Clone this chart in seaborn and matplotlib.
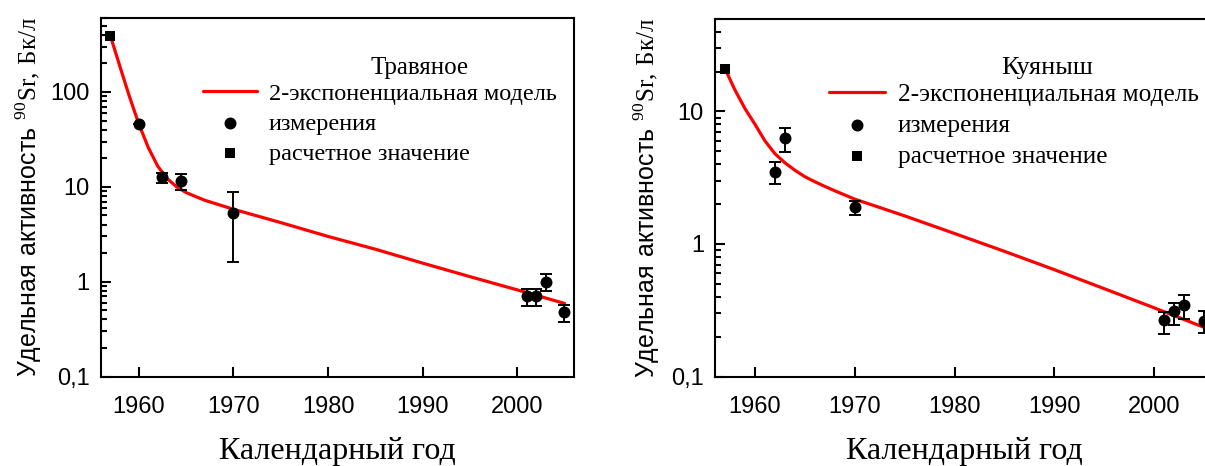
import numpy as np
import matplotlib
matplotlib.use("Agg")
import matplotlib.pyplot as plt
import seaborn as sns
from matplotlib.ticker import FixedLocator, FixedFormatter, LogLocator, NullFormatter

# --- Травяное ---
trav_model_years = [1957, 1958, 1959, 1960, 1961, 1962, 1963, 1964, 1965, 1966, 1967,
                    1968, 1970, 1975, 1980, 1985, 1990, 1995, 2000, 2005]
trav_model_values = [390, 186, 90, 46, 26, 16.5, 12.2, 10.0, 8.7, 7.9, 7.2,
                     6.7, 5.8, 4.2, 3.0, 2.2, 1.57, 1.13, 0.82, 0.59]
trav_meas_years = [1960, 1962.5, 1964.5, 1970, 2001, 2002, 2003, 2005]
trav_meas_values = [46, 12.6, 11.6, 5.3, 0.70, 0.70, 1.0, 0.48]
trav_err_low = [46, 11.0, 9.2, 1.6, 0.56, 0.56, 0.80, 0.38]
trav_err_high = [46, 14.0, 13.7, 8.8, 0.84, 0.84, 1.2, 0.57]
trav_calc_year = [1957]
trav_calc_value = [390]

# --- Куяныш ---
kuya_model_years = [1957, 1958, 1959, 1960, 1961, 1962, 1963, 1964, 1965, 1966, 1967,
                    1968, 1970, 1975, 1980, 1985, 1990, 1995, 2000, 2005]
kuya_model_values = [21, 14.5, 10.5, 8.0, 6.0, 4.8, 4.1, 3.6, 3.22, 2.95, 2.72,
                     2.52, 2.18, 1.63, 1.2, 0.88, 0.64, 0.46, 0.33, 0.235]
kuya_meas_years = [1962, 1963, 1970, 2001, 2002, 2003, 2005]
kuya_meas_values = [3.5, 6.3, 1.9, 0.265, 0.31, 0.345, 0.263]
kuya_err_low = [2.82, 4.95, 1.66, 0.21, 0.244, 0.274, 0.212]
kuya_err_high = [4.17, 7.5, 2.11, 0.307, 0.36, 0.41, 0.31]
kuya_calc_year = [1957]
kuya_calc_value = [21]

year_ticks = [1960, 1970, 1980, 1990, 2000]
act_ticks = [0.1, 1, 10, 100]
act_tick_labels = ["0,1", "1", "10", "100"]

sns.set_style("white")
plt.rcParams["font.family"] = ["Liberation Serif", "DejaVu Serif"]
plt.rcParams["mathtext.fontset"] = "custom"
plt.rcParams["mathtext.rm"] = "Liberation Serif"
plt.rcParams["mathtext.sf"] = "Liberation Sans"
plt.rcParams["axes.linewidth"] = 1.5
plt.rcParams["axes.edgecolor"] = "black"
plt.rcParams["text.color"] = "black"
plt.rcParams["axes.labelcolor"] = "black"
plt.rcParams["xtick.color"] = "black"
plt.rcParams["ytick.color"] = "black"

YLABEL = r"$\mathsf{Удельная\ активность}\ ^{90}\mathrm{Sr{,}\ Бк/л}$"


def draw_panel(ax, title, model_x, model_y, meas_x, meas_y, lo, hi,
               calc_x, calc_y, ylim, title_xy, legend_anchor, ylab_x, leg_size):
    sns.lineplot(x=model_x, y=model_y, ax=ax, color="#ff0000", lw=2.3,
                 label="2-экспоненциальная модель", zorder=2)
    meas_y = np.array(meas_y)
    yerr = [meas_y - np.array(lo), np.array(hi) - meas_y]
    ax.errorbar(meas_x, meas_y, yerr=yerr, fmt="none", ecolor="black",
                elinewidth=1.4, capsize=4, capthick=1.4, zorder=3)
    sns.scatterplot(x=meas_x, y=meas_y, ax=ax, marker="o", s=74, color="black",
                    linewidth=0, label="измерения", zorder=4)
    sns.scatterplot(x=calc_x, y=calc_y, ax=ax, marker="s", s=60, color="black",
                    linewidth=0, label="расчетное значение", zorder=4)

    ax.set_yscale("log")
    ax.set_xlim(1956, 2006)
    ax.set_ylim(*ylim)
    ax.xaxis.set_major_locator(FixedLocator(year_ticks))
    ax.yaxis.set_major_locator(FixedLocator(act_ticks))
    ax.yaxis.set_major_formatter(FixedFormatter(act_tick_labels))
    ax.yaxis.set_minor_locator(LogLocator(base=10, subs=np.arange(2, 10)))
    ax.yaxis.set_minor_formatter(NullFormatter())
    ax.tick_params(axis="both", which="both", direction="in", bottom=True, left=True,
                   top=False, right=False, colors="black", labelcolor="black", width=1.5)
    ax.tick_params(axis="x", which="major", length=7, pad=14)
    ax.tick_params(axis="y", which="major", length=7, pad=8)
    ax.tick_params(axis="y", which="minor", length=4.5)
    for lab in ax.get_xticklabels() + ax.get_yticklabels():
        lab.set_family("Liberation Sans")
        lab.set_fontsize(17)

    ax.set_xlabel("Календарный год", fontsize=23, labelpad=14)
    ax.set_ylabel(YLABEL, fontsize=18)
    ax.yaxis.set_label_coords(ylab_x, 0.5)

    handles, labels = ax.get_legend_handles_labels()
    ax.legend(handles, labels, loc="upper left", bbox_to_anchor=legend_anchor,
              bbox_transform=ax.figure.transFigure, frameon=False, fontsize=leg_size,
              borderpad=0, borderaxespad=0, handlelength=2.2, handletextpad=0.5,
              labelspacing=0.32)
    ax.text(title_xy[0], title_xy[1], title, transform=ax.transAxes,
            ha="center", va="center", fontsize=leg_size + 0.5)
    for sp in ax.spines.values():
        sp.set_visible(True)
        sp.set_color("black")


fig = plt.figure(figsize=(12.05, 4.66), dpi=100)
ax1 = fig.add_axes([0.0838, 0.192, 0.3925, 0.769])
ax2 = fig.add_axes([0.5934, 0.192, 0.4141, 0.7676])

draw_panel(ax1, "Травяное", trav_model_years, trav_model_values, trav_meas_years,
           trav_meas_values, trav_err_low, trav_err_high, trav_calc_year, trav_calc_value,
           (0.1, 600), (0.674, 0.862), (0.1685, 0.822), -0.12, 17.5)
draw_panel(ax2, "Куяныш", kuya_model_years, kuya_model_values, kuya_meas_years,
           kuya_meas_values, kuya_err_low, kuya_err_high, kuya_calc_year, kuya_calc_value,
           (0.1, 50), (0.665, 0.862), (0.688, 0.822), -0.106, 18.3)

fig.savefig("out.png", dpi=100)
